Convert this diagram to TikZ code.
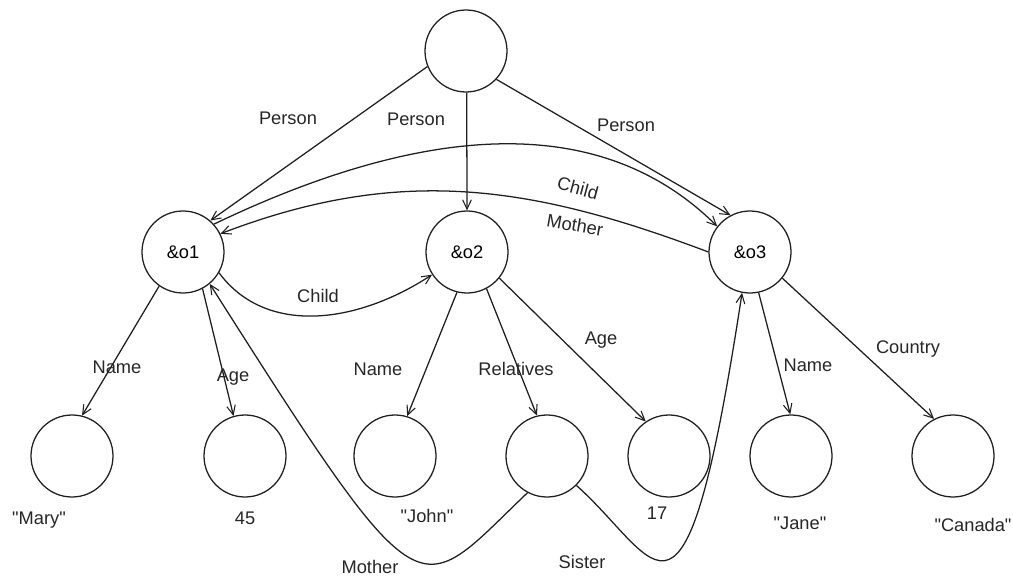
\documentclass[tikz,border=0pt]{standalone}
\usepackage{fontspec}
\setmainfont{Liberation Sans}
\usetikzlibrary{arrows.meta}
\newcommand{\qq}[1]{\textquotedbl#1\textquotedbl}
\begin{document}
\begin{tikzpicture}[x=0.75pt,y=-0.75pt,
  ink/.style={draw=black!88,line width=0.95pt},
  obj/.style={ink,circle,minimum size=61.5pt,inner sep=0pt,font=\fontsize{13.7}{16}\selectfont},
  lbl/.style={inner sep=0pt,text=black!85,font=\fontsize{13.7}{16}\selectfont},
  arr/.style={ink,-{Straight Barb[length=7pt,width=6.5pt,line width=0.8pt]}}]
\useasboundingbox (0,0) rectangle (1013,577);

% object nodes
\node[obj] (root) at (466,51) {};
\node[obj] (o1) at (183,252) {\&o1};
\node[obj] (o2) at (467,252) {\&o2};
\node[obj] (o3) at (750,252) {\&o3};
% value nodes
\node[obj] (mary) at (72,456) {};
\node[obj] (n45) at (245,456) {};
\node[obj] (john) at (395,456) {};
\node[obj] (rel) at (547,456) {};
\node[obj] (n17) at (669,456) {};
\node[obj] (jane) at (791,456) {};
\node[obj] (canada) at (953,456) {};

% values printed under the leaves
\node[lbl] (vmary) at (39,520) {\qq{Mary}};
\node[lbl] (v45) at (245,518) {45};
\node[lbl] (vjohn) at (427,516) {\qq{John}};
\node[lbl] (v17) at (657,513) {17};
\node[lbl] (vjane) at (800,523) {\qq{Jane}};
\node[lbl] (vcanada) at (973,525) {\qq{Canada}};

% edges from the root
\draw[arr] (root.202) -- (o1.49);
\draw[arr] (root.-89) -- (o2.north);
\draw[arr] (root.-43) -- (o3.118);
\node[lbl] (lp1) at (288,118) {Person};
\node[lbl] (lp2) at (416,119) {Person};
\node[lbl] (lp3) at (626,125) {Person};

% references between objects
\draw[arr] (o1.42) .. controls (400,135) and (590,100) .. (o3.142);
\node[lbl,rotate=-15] (lchild13) at (578,188) {Child};
\draw[arr] (o3.180) .. controls (531,185) and (400,165) .. (o1.26);
\node[lbl,rotate=-10] (lmother31) at (575,225) {Mother};
\draw[arr] (o1.-30) .. controls (265,335) and (355,325) .. (o2.213);
\node[lbl] (lchild12) at (318,296) {Child};

% attributes of &o1
\draw[arr] (o1.235) -- (mary.76);
\node[lbl] (lname1) at (117,367) {Name};
\draw[arr] (o1.-62) -- (n45.106);
\node[lbl] (lage1) at (233,377) {Age};

% attributes of &o2
\draw[arr] (o2.256) -- (john.73);
\node[lbl] (lname2) at (378,369) {Name};
\draw[arr] (o2.-62) -- (rel.104);
\node[lbl] (lrel) at (516,369) {Relatives};
\draw[arr] (o2.-39) -- (n17.124);
\node[lbl] (lage2) at (601,340) {Age};

% attributes of &o3
\draw[arr] (o3.-78) -- (jane.91);
\node[lbl] (lname3) at (808,365) {Name};
\draw[arr] (o3.-39) -- (canada.117);
\node[lbl] (lcountry) at (908,349) {Country};

% relatives loop back to objects
\draw[arr] (rel.242) .. controls (415,600) and (427,626) .. (o1.-50);
\node[lbl] (lmother) at (370,567) {Mother};
\draw[arr] (rel.-45) .. controls (660,560) and (684,672) .. (o3.259);
\node[lbl] (lsister) at (582,562) {Sister};
\end{tikzpicture}
\end{document}
